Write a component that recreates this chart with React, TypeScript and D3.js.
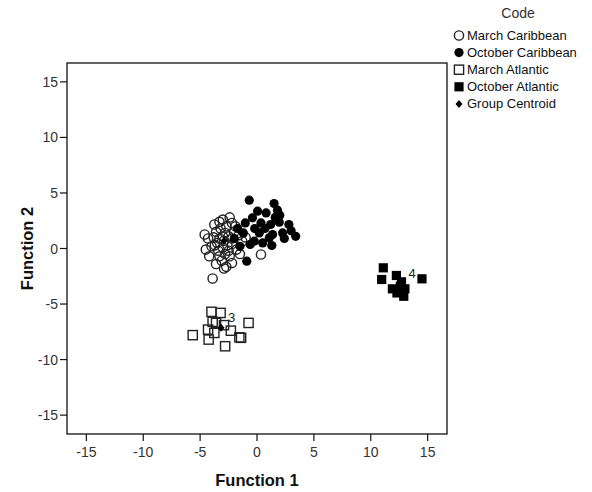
import * as d3 from 'd3';

const marchCaribbean: [number, number][] = [
  [-3.9, -2.7], [0.35, -0.54], [-2.7, -1.65], [-2.2, -1.3], [-4.6, 1.26],
  [-4.5, -0.1], [-3.0, 2.6], [-2.4, 2.8], [-3.75, 2.16], [-2.2, 2.3],
  [-1.3, 0.66], [-4.2, -0.7], [-3.3, -0.7], [-2.4, -0.7], [-1.8, -0.1],
  [-3.0, 1.1], [-3.5, 0.5], [-2.6, 0.3], [-3.8, 1.0], [-2.0, 1.5],
  [-3.2, 1.8], [-2.8, 1.4], [-4.0, 0.2], [-3.4, -0.2], [-2.5, -0.2],
  [-1.6, 1.2], [-3.6, 1.5], [-2.9, 0.7], [-4.3, 0.9], [-2.2, 0.9],
  [-3.1, -1.1], [-1.9, 2.0], [-2.7, 2.0], [-3.3, 2.4], [-1.0, 1.0],
  [-3.6, -1.4], [-2.9, -1.8], [-1.5, -0.5], [-3.3, 0.9], [-2.5, 1.1],
  [-3.0, 0.1], [-2.2, 0.4], [-3.7, 0.3], [-2.8, -0.5],
];

const octoberCaribbean: [number, number][] = [
  [-0.68, 4.35], [1.5, 4.05], [0.05, 3.36], [0.8, 3.2], [1.8, 3.45],
  [-0.4, 2.76], [-1.03, 2.3], [0.35, 2.3], [1.2, 2.16], [1.96, 2.37],
  [2.8, 2.16], [0.2, 1.4], [1.37, 1.26], [2.25, 1.4], [3.4, 1.1],
  [-0.24, 0.66], [1.08, 0.96], [1.3, 0.27], [-0.9, -1.14], [-0.6, 0.36],
  [0.7, 1.8], [2.4, 0.9], [1.6, 2.8], [-0.2, 1.8], [3.0, 1.6],
  [0.5, 0.5], [-1.2, 1.4], [2.0, 3.0], [-1.5, 0.2], [-2.0, 0.9],
  [-1.7, 1.8],
];

const marchAtlantic: [number, number][] = [
  [-4.0, -5.7], [-3.2, -5.8], [-0.74, -6.7], [-5.65, -7.8], [-4.25, -8.2],
  [-4.3, -7.3], [-3.6, -6.7], [-2.3, -7.4], [-1.55, -8.0], [-1.4, -8.04],
  [-2.8, -8.8], [-3.75, -7.6], [-3.9, -6.6], [-2.9, -6.9],
];

const octoberAtlantic: [number, number][] = [
  [11.1, -1.74], [10.96, -2.79], [12.25, -2.43], [14.5, -2.73], [11.9, -3.63],
  [12.6, -3.4], [13.0, -3.63], [12.3, -4.0], [12.9, -4.3], [12.7, -3.0],
];

const centroids: [number, number][] = [
  [-2.9, 0.7], [1.0, 2.0], [-3.16, -7.14], [12.7, -3.24],
];
const centroidLabels = ['', '', '3', '4'];

const legendLabels = [
  'March Caribbean',
  'October Caribbean',
  'March Atlantic',
  'October Atlantic',
  'Group Centroid',
];

const ticks = [-15, -10, -5, 0, 5, 10, 15];

const font = '"Liberation Sans", Arial, sans-serif';

function Marker({ kind, x, y }: { kind: number; x: number; y: number }) {
  if (kind === 0)
    return <circle cx={x} cy={y} r={4.6} fill="none" stroke="#222" strokeWidth={1.4} />;
  if (kind === 1) return <circle cx={x} cy={y} r={4.6} fill="#000" />;
  if (kind === 2)
    return (
      <rect x={x - 4.6} y={y - 4.6} width={9.2} height={9.2} fill="none" stroke="#222" strokeWidth={1.4} />
    );
  if (kind === 3)
    return <rect x={x - 4.6} y={y - 4.6} width={9.2} height={9.2} fill="#000" />;
  return (
    <path d={`M${x},${y - 4}L${x + 3.5},${y}L${x},${y + 4}L${x - 3.5},${y}Z`} fill="#000" />
  );
}

export default function App() {
  const width = 592,
    height = 492,
    left = 67,
    right = 447,
    top = 63,
    bottom = 434;

  const x = d3.scaleLinear().domain([-16.7, 16.7]).range([left, right]);
  const y = d3.scaleLinear().domain([-16.7, 16.7]).range([bottom, top]);

  const groups = [marchCaribbean, octoberCaribbean, marchAtlantic, octoberAtlantic];

  return (
    <svg
      width={width}
      height={height}
      style={{ position: 'absolute', left: 0, top: 0, background: '#fff' }}
      fontFamily={font}
    >
      <rect x={0} y={0} width={width} height={height} fill="#fff" />
      <rect x={left} y={top} width={right - left} height={bottom - top} fill="#fff" stroke="#111" strokeWidth={1.3} />

      {ticks.map((t) => (
        <g key={'x' + t}>
          <line x1={x(t)} x2={x(t)} y1={bottom} y2={bottom + 7} stroke="#111" strokeWidth={1.2} />
          <text x={x(t)} y={bottom + 23} textAnchor="middle" fontSize={14} fill="#333">
            {t}
          </text>
        </g>
      ))}
      {ticks.map((t) => (
        <g key={'y' + t}>
          <line x1={left - 7} x2={left} y1={y(t)} y2={y(t)} stroke="#111" strokeWidth={1.2} />
          <text x={left - 9} y={y(t) + 5} textAnchor="end" fontSize={14} fill="#333">
            {t}
          </text>
        </g>
      ))}

      <text x={x(0)} y={486} textAnchor="middle" fontSize={16.5} fontWeight="bold" fill="#111">
        Function 1
      </text>
      <text
        transform={`translate(33,${y(0)}) rotate(-90)`}
        textAnchor="middle"
        fontSize={16.5}
        fontWeight="bold"
        fill="#111"
      >
        Function 2
      </text>

      {groups.map((pts, k) =>
        pts.map((p, i) => <Marker key={k + '-' + i} kind={k} x={x(p[0])} y={y(p[1])} />)
      )}
      {centroids.map((c, i) => (
        <g key={'c' + i}>
          <Marker kind={4} x={x(c[0])} y={y(c[1])} />
          <text x={x(c[0]) + 7} y={y(c[1]) - 6} fontSize={13} fill="#222">
            {centroidLabels[i]}
          </text>
        </g>
      ))}

      <text x={518} y={18} textAnchor="middle" fontSize={14} fill="#333">
        Code
      </text>
      {legendLabels.map((l, i) => (
        <g key={l}>
          <Marker kind={i} x={459} y={35.5 + i * 17.1} />
          <text x={467} y={35.5 + i * 17.1 + 4.5} fontSize={13} fill="#111">
            {l}
          </text>
        </g>
      ))}
    </svg>
  );
}
